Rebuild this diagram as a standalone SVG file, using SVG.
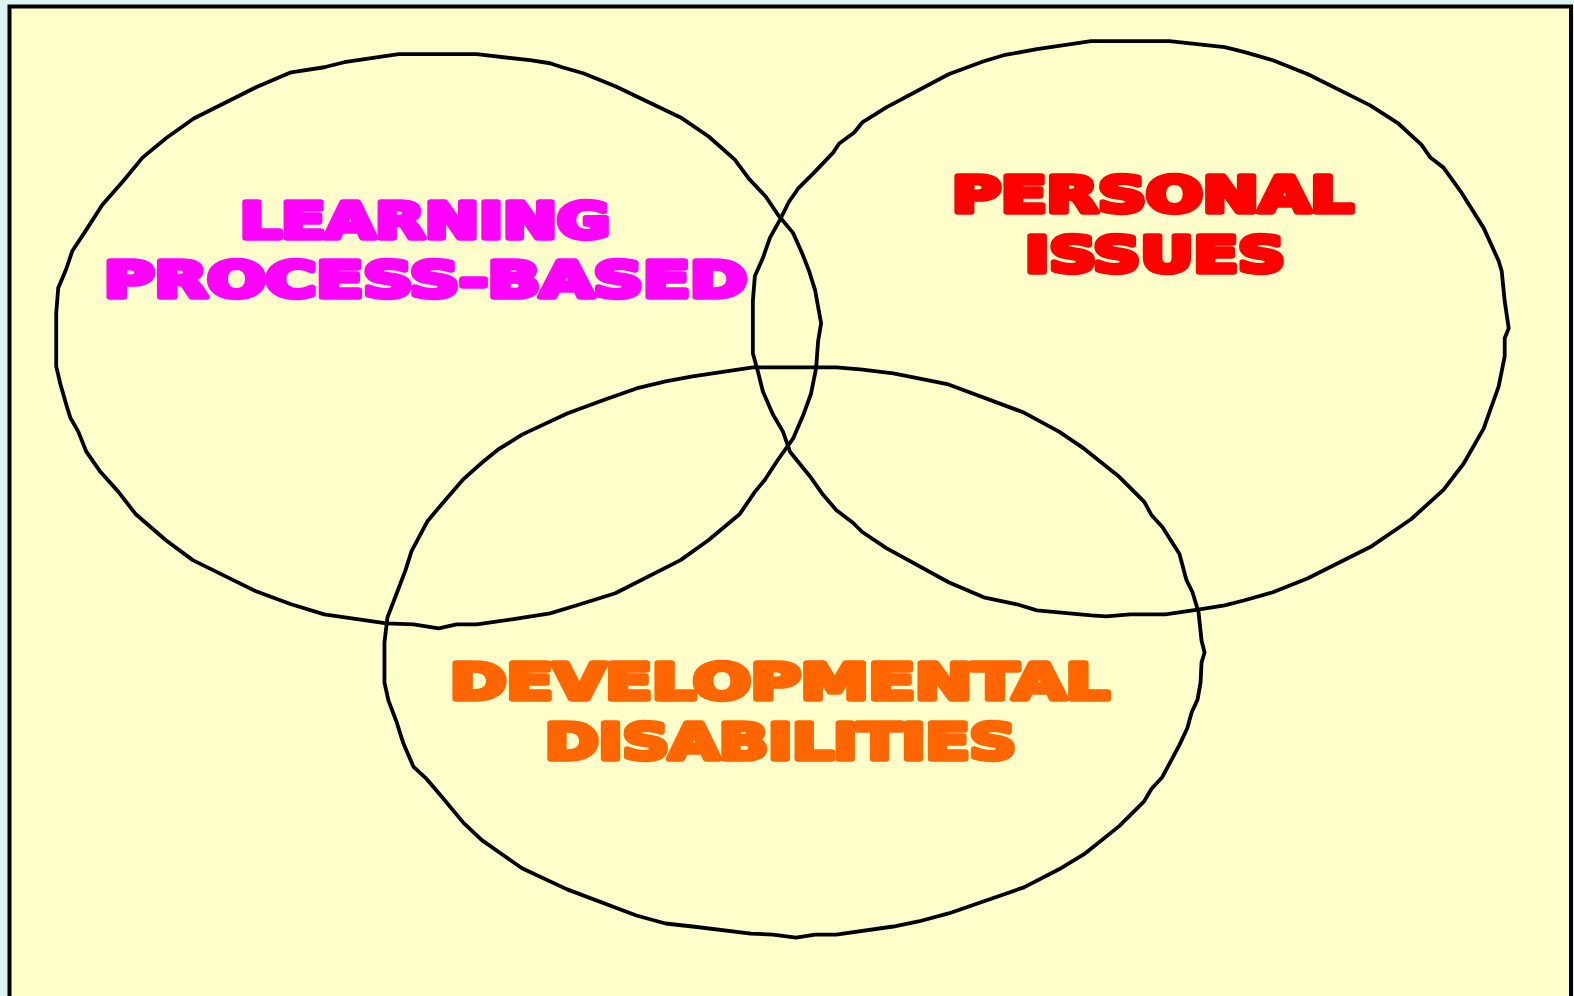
<svg xmlns="http://www.w3.org/2000/svg" width="1574" height="996" viewBox="0 0 1574 996">
<style>
.ring{fill:none;stroke:#000;stroke-width:3.8;stroke-linejoin:round}
.lbl{font-family:"DejaVu Sans","Liberation Sans",sans-serif;font-weight:bold;font-size:49px;stroke-width:5.5;stroke-linejoin:round}
</style>
<rect x="0" y="0" width="1574" height="996" fill="#DCF5F3"/>
<rect id="frame" x="9.5" y="6.5" width="1561.5" height="1000" fill="#FFFFCC" stroke="#000" stroke-width="4"/>
<g id="connectors" transform="scale(1.0038)">
<polygon id="ring-learning" class="ring" points="437,54 397,54 343,62 323,67 290,72 255,87 193,118 165,138 142,157 123,180 102,204 84,232 72,250 66,268 58,287 56,312 56,365 60,382 66,403 70,416 78,430 86,450 100,470 118,490 135,512 165,538 192,558 255,589 290,602 323,612 385,621 412,622 437,626 455,622 475,622 510,617 548,611 578,602 613,591 678,558 706,538 737,512 752,490 762,478 775,458 790,437 800,414 808,392 813,367 815,340 818,322 812,289 806,270 799,252 790,232 775,214 763,196 746,178 732,159 706,136 678,117 613,86 581,73 560,67 548,63 528,60 475,54"/>
<polygon id="ring-personal" class="ring" points="1126,41 1087,41 1033,49 1000,55 980,61 945,74 883,107 859,122 851,132 836,143 830,152 810,173 795,188 786,201 777,219 767,237 760,257 752,275 750,300 750,352 755,370 760,390 770,413 780,430 787,450 808,476 820,493 833,508 850,521 859,530 883,546 945,580 980,595 1013,602 1033,608 1087,613 1102,614 1126,612 1161,612 1195,607 1220,603 1240,598 1268,590 1303,576 1365,545 1393,526 1406,517 1438,488 1458,462 1478,427 1493,385 1499,355 1499,337 1503,327 1499,300 1496,270 1493,260 1478,227 1456,192 1438,167 1425,157 1416,144 1393,123 1365,105 1303,74 1268,60 1240,52 1220,47 1165,41"/>
<polygon id="ring-developmental" class="ring" points="791,366 750,366 690,375 663,380 634,387 600,399 565,412 520,433 496,448 480,461 462,477 442,500 426,519 410,549 404,568 396,589 386,615 383,640 383,680 387,698 395,719 402,741 412,764 425,776 442,796 462,820 480,837 500,851 520,865 565,886 634,912 663,920 690,923 748,930 770,931 793,934 812,931 833,931 890,923 915,918 945,910 1020,884 1055,866 1080,851 1115,823 1140,798 1147,786 1158,774 1175,742 1183,725 1187,710 1193,697 1196,680 1197,660 1200,650 1197,638 1194,610 1188,590 1182,578 1175,552 1158,525 1147,513 1140,500 1115,475 1080,447 1055,430 1020,411 945,383 915,377 890,372 857,368 833,366"/>
</g>
<g id="node-learning" class="lbl" fill="#FF00FF" stroke="#FF00FF">
<text x="240" y="238" textLength="370" lengthAdjust="spacingAndGlyphs">LEARNING</text>
<text x="104" y="297" textLength="643" lengthAdjust="spacingAndGlyphs">PROCESS-BASED</text>
</g>
<g id="node-personal" class="lbl" fill="#FF0000" stroke="#FF0000">
<text x="952" y="212" textLength="401" lengthAdjust="spacingAndGlyphs">PERSONAL</text>
<text x="1025" y="272" textLength="260" lengthAdjust="spacingAndGlyphs">ISSUES</text>
</g>
<g id="node-developmental" class="lbl" fill="#FF6600" stroke="#FF6600">
<text x="450" y="699" textLength="659" lengthAdjust="spacingAndGlyphs">DEVELOPMENTAL</text>
<text x="545" y="759" textLength="471" lengthAdjust="spacingAndGlyphs">DISABILITIES</text>
</g>
</svg>
